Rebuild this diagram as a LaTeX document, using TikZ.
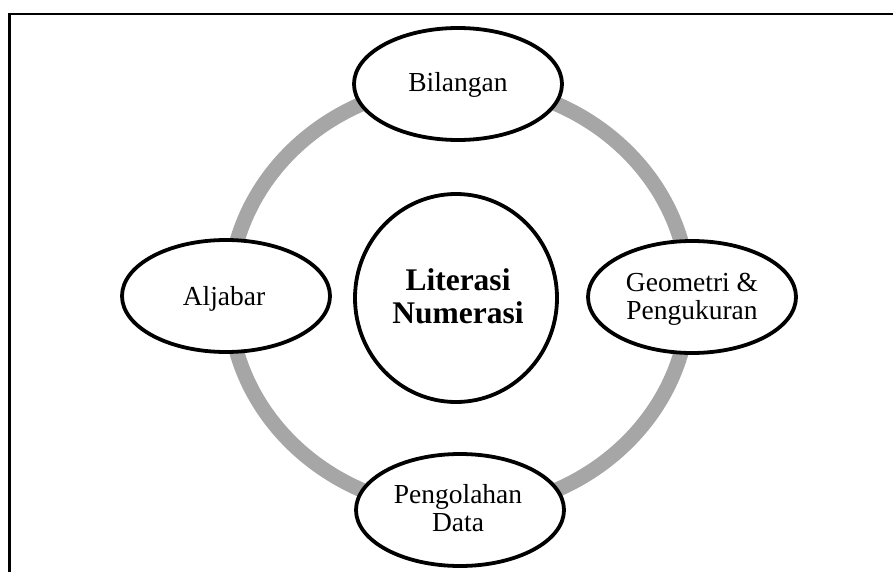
\documentclass[tikz,border=0pt]{standalone}
\usepackage{fontspec}
\setmainfont{Liberation Serif}
\usetikzlibrary{shapes.geometric}
\definecolor{ringgray}{HTML}{A6A6A6}
\tikzset{
  ell/.style={shape=ellipse, draw=black, line width=3.8pt, fill=white,
    minimum width=208pt, minimum height=112pt, inner sep=0pt},
  centre/.style={shape=ellipse, draw=black, line width=3.8pt, fill=white,
    minimum width=202pt, minimum height=208pt, inner sep=0pt},
  lbl/.style={font=\fontsize{27.5}{28}\selectfont, align=center, inner sep=0pt},
  boldlbl/.style={font=\fontsize{31.5}{33}\selectfont\bfseries, align=center, inner sep=0pt},
  ring/.style={draw=ringgray, line width=15pt},
  frame/.style={draw=black, line width=2.2pt}
}
\begin{document}
\begin{tikzpicture}[x=1pt,y=-1pt]
\useasboundingbox (0,0) rectangle (893,572);
\draw[frame] (9.5,572) -- (9.5,14.3) -- (893,14.3);
\draw[ring] (459,297) ellipse [x radius=230pt, y radius=213pt];
\node[centre] (lit) at (456,298) {};
\node[boldlbl] (litT) at (458,296) {Literasi\\Numerasi};
\node[ell] (bil) at (458,84) {};
\node[lbl, anchor=base] (bilT) at (458,92) {Bilangan};
\node[ell] (alj) at (226,296) {};
\node[lbl, anchor=base] (aljT) at (224,305) {Aljabar};
\node[ell] (geo) at (692,297) {};
\node[lbl] (geoT) at (692,299) {Geometri \&\\Pengukuran};
\node[ell] (pen) at (460,510) {};
\node[lbl] (penT) at (458,508.5) {Pengolahan\\Data};
\end{tikzpicture}
\end{document}
